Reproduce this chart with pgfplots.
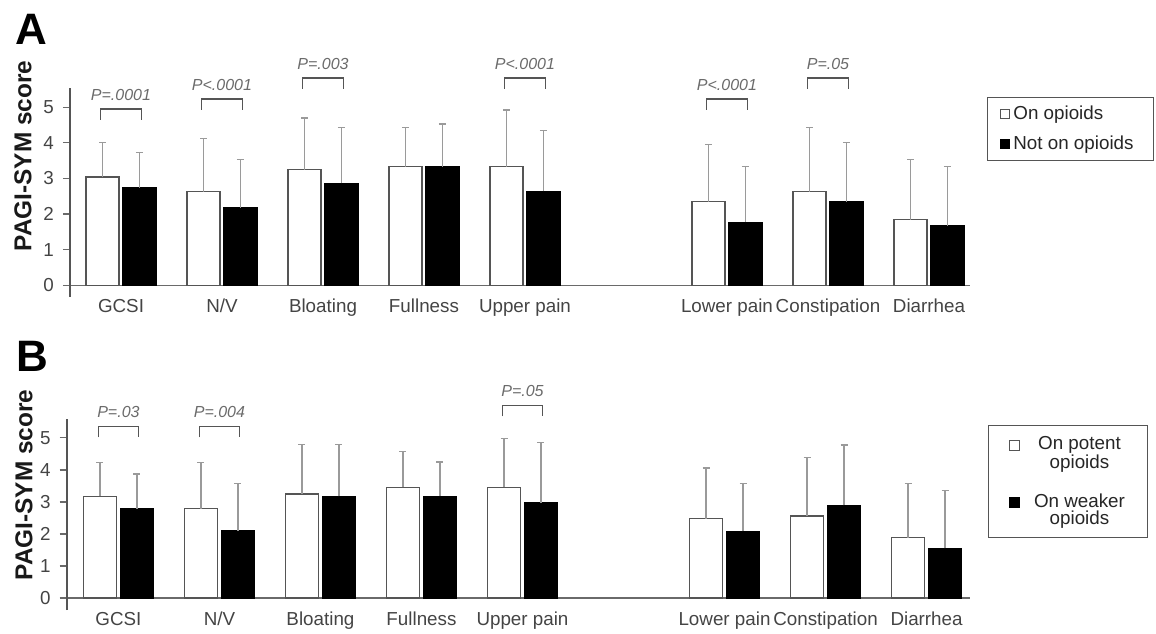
\documentclass[border=0pt]{standalone}
\usepackage{fontspec}
\setmainfont{Liberation Sans}
\usepackage{pgfplots}
\pgfplotsset{compat=1.18}
\usepackage{pgfplotstable}
\definecolor{axisgray}{HTML}{6A6A6A}
\definecolor{bargray}{HTML}{555555}
\definecolor{errgray}{HTML}{9A9A9A}
\definecolor{labelgray}{HTML}{444444}
\definecolor{ptgray}{HTML}{6B6B6B}
\definecolor{boxgray}{HTML}{555555}

% x = group position, w = white bar mean, we = its upper SD,
% b = black bar mean, be = its upper SD
\pgfplotstableread{
x  w    we    b    be
0  3.04 0.98  2.74 0.98
1  2.63 1.50  2.17 1.37
2  3.25 1.45  2.86 1.56
3  3.33 1.09  3.33 1.20
4  3.33 1.59  2.64 1.70
6  2.35 1.60  1.77 1.56
7  2.63 1.79  2.35 1.66
8  1.84 1.70  1.67 1.66
}\dataA
\pgfplotstableread{
x  w    we    b    be
0  3.18 1.04  2.79 1.08
1  2.79 1.43  2.09 1.49
2  3.25 1.54  3.17 1.62
3  3.46 1.12  3.18 1.07
4  3.46 1.53  2.97 1.89
6  2.48 1.58  2.08 1.49
7  2.56 1.83  2.89 1.89
8  1.88 1.69  1.55 1.81
}\dataB

\begin{document}
\begin{tikzpicture}[x=0.5pt,y=0.5pt]
\path[use as bounding box] (0,0) rectangle (1156,633);
\coordinate (Aorig) at (70,336);
\coordinate (Borig) at (66.7,23);

\pgfplotsset{
  mybars/.style={
    scale only axis,
    axis x line=middle, axis y line=left,
    axis line style={-, draw=axisgray, line width=0.6pt},
    y axis line style={line width=0.9pt, draw=axisgray!80!black},
    hide obscured x ticks=false, hide obscured y ticks=false,
    xtick={0,1,2,3,4,6,7,8},
    xticklabels={GCSI,N/V,Bloating,Fullness,Upper pain,Lower pain,Constipation,Diarrhea},
    x tick style={draw=none},
    ytick={0,1,2,3,4,5},
    tick align=outside,
    y tick style={draw=axisgray, line width=0.6pt},
    major tick length=3.5pt,
    tick label style={font=\fontsize{9.4}{11}\selectfont, text=labelgray},
    xticklabel style={yshift=0pt},
    yticklabel style={xshift=-1pt},
    /pgf/number format/assume math mode=true,
    clip=false,
    legend cell align=left,
    legend image code/.code={\draw[##1, line width=0.5pt] (0pt,-2.25pt) rectangle (4.5pt,2.25pt);},
  },
  bigsq/.style={
    legend image code/.code={\path[draw=none, fill=none] (0pt,-6.5pt) rectangle (5pt,6.5pt);
      \draw[##1, line width=0.5pt] (0pt,1.5pt) rectangle (5pt,6.5pt);},
  },
  errstyle/.style={
    error bars/.cd, y dir=plus, y explicit,
    error bar style={draw=errgray, line width=0.6pt},
    error mark=-,
    error mark options={draw=errgray, rotate=90, mark size=1.75pt, line width=0.6pt}},
  wbar/.style={ybar, bar width=0.327, bar shift=0, fill=white, draw=bargray, line width=0.65pt, errstyle},
  bbar/.style={ybar, bar width=0.327, bar shift=0, fill=black, draw=black, line width=0.65pt, errstyle},
}
\tikzset{
  brk/.style={draw=bargray, line width=0.6pt},
  pval/.style={font=\itshape\fontsize{8}{9}\selectfont, text=ptgray},
}

% ---------------- Panel A ----------------
\begin{axis}[mybars, at={(Aorig)}, anchor=south west,
  width=450pt, height=104.5pt,
  xmin=-0.505, xmax=8.406, ymin=-0.33, ymax=5.54,
  legend style={at={(1.019,0.957)}, anchor=north west, draw=boxgray, line width=0.6pt,
    font=\fontsize{9.4}{11}\selectfont, text=black!85,
    inner xsep=6.35pt, inner ysep=2.75pt, row sep=4pt,
    nodes={inner xsep=1.5pt, inner ysep=1pt, text height=7pt, text depth=2pt}},
]
\addplot[wbar] table[x expr=\thisrow{x}-0.183, y=w, y error=we] {\dataA};
\addlegendentry{\makebox[62pt][l]{On opioids}}
\addplot[bbar] table[x expr=\thisrow{x}+0.183, y=b, y error=be] {\dataA};
\addlegendentry{\makebox[62pt][l]{Not on opioids}}

\draw[brk] (axis cs:-0.2,4.65) -- (axis cs:-0.2,4.95) -- (axis cs:0.2,4.95) -- (axis cs:0.2,4.65);
\node[pval] at (axis cs:0,5.35) {P=.0001};
\draw[brk] (axis cs:0.8,4.93) -- (axis cs:0.8,5.23) -- (axis cs:1.2,5.23) -- (axis cs:1.2,4.93);
\node[pval] at (axis cs:1,5.63) {P<.0001};
\draw[brk] (axis cs:1.8,5.52) -- (axis cs:1.8,5.82) -- (axis cs:2.2,5.82) -- (axis cs:2.2,5.52);
\node[pval] at (axis cs:2,6.22) {P=.003};
\draw[brk] (axis cs:3.8,5.52) -- (axis cs:3.8,5.82) -- (axis cs:4.2,5.82) -- (axis cs:4.2,5.52);
\node[pval] at (axis cs:4,6.22) {P<.0001};
\draw[brk] (axis cs:5.8,4.93) -- (axis cs:5.8,5.23) -- (axis cs:6.2,5.23) -- (axis cs:6.2,4.93);
\node[pval] at (axis cs:6,5.63) {P<.0001};
\draw[brk] (axis cs:6.8,5.52) -- (axis cs:6.8,5.82) -- (axis cs:7.2,5.82) -- (axis cs:7.2,5.52);
\node[pval] at (axis cs:7,6.22) {P=.05};
\end{axis}

% ---------------- Panel B ----------------
\begin{axis}[mybars, bigsq, at={(Borig)}, anchor=south west,
  width=451.65pt, height=95.5pt,
  xmin=-0.512, xmax=8.43, ymin=-0.375, ymax=5.59,
  legend cell align=center,
  legend style={at={(1.0196,0.969)}, anchor=north west, draw=boxgray, line width=0.6pt,
    font=\fontsize{9.4}{8.5}\selectfont, text=black!85,
    inner xsep=10.35pt, inner ysep=4.25pt, row sep=9pt,
    cells={align=center},
    /tikz/every odd column/.append style={column sep=6pt},
    nodes={inner xsep=1pt, inner ysep=1pt}},
]
\addplot[wbar] table[x expr=\thisrow{x}-0.183, y=w, y error=we] {\dataB};
\addlegendentry{On potent\\opioids}
\addplot[bbar] table[x expr=\thisrow{x}+0.183, y=b, y error=be] {\dataB};
\addlegendentry{On weaker\\opioids}

\draw[brk] (axis cs:-0.2,5.02) -- (axis cs:-0.2,5.35) -- (axis cs:0.2,5.35) -- (axis cs:0.2,5.02);
\node[pval] at (axis cs:0,5.82) {P=.03};
\draw[brk] (axis cs:0.8,5.02) -- (axis cs:0.8,5.35) -- (axis cs:1.2,5.35) -- (axis cs:1.2,5.02);
\node[pval] at (axis cs:1,5.82) {P=.004};
\draw[brk] (axis cs:3.8,5.67) -- (axis cs:3.8,6.0) -- (axis cs:4.2,6.0) -- (axis cs:4.2,5.67);
\node[pval] at (axis cs:4,6.47) {P=.05};
\end{axis}

% panel letters and axis titles
\node[font=\bfseries\fontsize{22}{24}\selectfont] at (31.5,604) {A};
\node[font=\bfseries\fontsize{22}{24}\selectfont] at (32,277) {B};
\node[rotate=90, font=\bfseries\fontsize{12.2}{14}\selectfont, text=black!90] at (23,477) {PAGI-SYM score};
\node[rotate=90, font=\bfseries\fontsize{12.2}{14}\selectfont, text=black!90] at (24,148) {PAGI-SYM score};
\end{tikzpicture}
\end{document}
